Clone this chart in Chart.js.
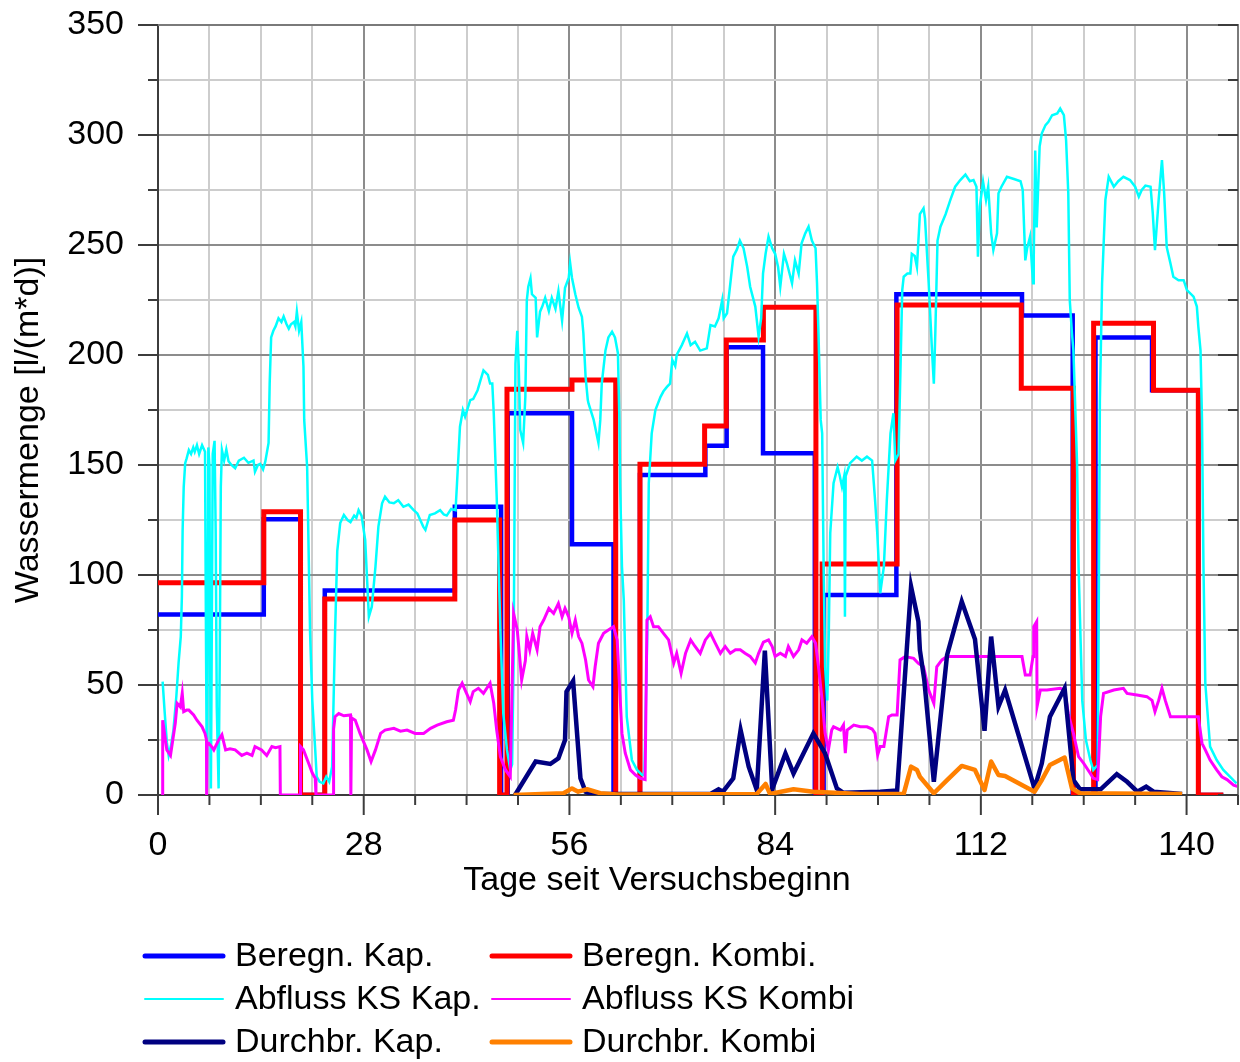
<!DOCTYPE html>
<html lang="de">
<head>
<meta charset="utf-8">
<title>Wassermenge – Tage seit Versuchsbeginn</title>
<script src="https://cdn.jsdelivr.net/npm/chart.js@4.4.1/dist/chart.umd.min.js"></script>
<style>
  html, body { margin: 0; padding: 0; background: #ffffff; }
  #wrap { width: 1240px; height: 1062px; }
</style>
</head>
<body>
<div id="wrap"><canvas id="chart" width="1240" height="1062"></canvas></div>
<script>
const FONT = "'Liberation Sans', Arial, Helvetica, sans-serif";

// Axis labelling
const xTickLabels = [0, 28, 56, 84, 112, 140];
const yTickLabels = [0, 50, 100, 150, 200, 250, 300, 350];
const xTitle = 'Tage seit Versuchsbeginn';
const yTitle = 'Wassermenge [l/(m*d)]';
const seriesNames = ['Beregn. Kap.', 'Beregn. Kombi.', 'Abfluss KS Kap.', 'Abfluss KS Kombi', 'Durchbr. Kap.', 'Durchbr. Kombi'];

// Irrigation rates: [start day, rate] – each rate holds until the next start day
const beregnKap = [
  [0, 82], [14.4, 125.3], [19.4, 0], [22.7, 92.9], [40.4, 131], [46.7, 0], [47.6, 173.5],
  [56.35, 114], [62.0, 0], [65.6, 145.5], [74.5, 158.8], [77.4, 203.5], [82.35, 155.3],
  [89.4, 0], [90.6, 90.9], [100.5, 227.6], [117.6, 218], [124.5, 0], [127.6, 208],
  [135.3, 184], [141.6, 0], [145, 0]
];
const beregnKombi = [
  [0, 96.5], [14.4, 128.8], [19.4, 0], [22.7, 89.1], [40.4, 125], [46.5, 0], [47.5, 184.4],
  [56.35, 188.6], [62.3, 0], [65.6, 150.3], [74.4, 167.7], [77.35, 206.8], [82.4, 221.7],
  [89.55, 0], [90.4, 105], [100.6, 222.7], [117.5, 184.9], [124.6, 0], [127.35, 214.4],
  [135.5, 184], [141.6, 0], [145, 0]
];

// Runoff of the capillary-barrier variant [day, l/(m*d)]
const abflussKap = [
  [0.63, 51.5], [0.9, 38], [1.2, 24], [1.45, 18], [1.8, 23], [2.1, 29.5], [2.5, 45], [2.8, 60],
  [3.1, 72], [3.25, 90], [3.35, 120], [3.5, 140], [3.7, 150.8], [3.9, 153], [4.2, 156.8],
  [4.5, 155], [4.8, 158], [5.0, 156], [5.3, 159], [5.6, 155], [6.0, 159], [6.4, 156],
  [6.55, 60], [6.65, 2], [6.75, 60], [6.85, 158], [7.0, 150], [7.1, 60], [7.2, 3], [7.3, 60],
  [7.45, 155], [7.7, 161], [7.85, 120], [8.0, 40], [8.25, 3], [8.4, 60], [8.55, 140],
  [8.7, 156.8], [9.0, 152], [9.3, 157], [9.6, 151.7], [10.0, 150], [10.5, 148.5], [11.0, 152],
  [11.7, 153.3], [12.3, 151], [13.0, 152], [13.2, 147], [13.6, 150], [13.9, 150.5], [14.3, 148],
  [14.6, 151.5], [15.05, 160], [15.2, 187], [15.4, 208], [15.7, 211], [16.0, 213], [16.4, 216.7],
  [16.8, 215], [17.1, 217.5], [17.5, 214], [17.8, 212], [18.1, 214], [18.5, 215], [18.7, 213],
  [18.9, 219.7], [19.2, 211], [19.5, 215], [19.8, 194.7], [19.9, 170.5], [20.3, 149],
  [20.7, 73.6], [21.0, 43], [21.4, 20.5], [21.6, 8.3], [22.0, 6], [22.5, 5.3], [22.9, 8.3],
  [23.3, 6], [23.7, 12.9], [24.1, 73.5], [24.4, 111], [24.8, 123.6], [25.3, 127.3], [25.8, 125],
  [26.2, 124], [26.7, 127], [27.0, 126], [27.3, 129.5], [27.7, 127], [28.2, 116], [28.7, 81],
  [29.1, 85.6], [29.6, 103.8], [30.0, 122], [30.5, 132.6], [30.9, 135.6], [31.5, 133],
  [32.1, 132.6], [32.7, 134], [33.4, 131], [34.1, 132], [34.8, 129.5], [35.3, 128], [35.7, 125],
  [36.1, 122], [36.4, 120.5], [37.0, 127.3], [37.7, 128], [38.4, 129.5], [38.9, 127.5],
  [39.3, 127], [39.9, 130], [40.5, 129.5], [40.7, 141.7], [41.1, 167.4], [41.5, 175],
  [41.8, 172], [42.5, 179.5], [42.9, 180], [43.5, 184], [43.9, 188.6], [44.3, 193], [44.9, 191],
  [45.2, 187], [45.5, 187], [45.7, 173.5], [46.1, 135.6], [46.6, 75], [47.0, 37], [47.5, 20.5],
  [47.95, 11.4], [48.2, 14], [48.4, 60], [48.65, 196], [48.9, 211], [49.1, 195], [49.3, 166],
  [49.7, 160], [50.0, 181], [50.2, 225], [50.4, 231], [50.7, 234.9], [50.9, 227.6], [51.4, 226],
  [51.6, 208], [52.0, 219.7], [52.3, 222], [52.7, 226], [53.2, 220], [53.6, 226], [54.1, 221],
  [54.5, 229], [55.0, 215.6], [55.4, 230.5], [55.9, 235], [56.1, 241.7], [56.35, 235],
  [56.8, 227.6], [57.25, 221.5], [57.7, 217.4], [57.9, 209.8], [58.2, 190], [58.5, 179.5],
  [58.6, 178], [59.3, 170.5], [59.95, 160], [60.2, 170.5], [60.4, 187], [60.9, 202],
  [61.3, 208], [61.8, 210.6], [62.2, 208], [62.6, 200.8], [62.8, 170.5], [62.9, 141.7],
  [63.15, 103.8], [63.4, 88.6], [63.8, 35.6], [64.5, 15.9], [65.2, 11.4], [65.9, 9.1],
  [66.2, 9.1], [66.6, 73.5], [66.8, 141.7], [67.2, 164.4], [67.7, 175], [68.4, 181],
  [68.8, 183.5], [69.3, 185.6], [69.7, 187], [70.0, 197.7], [70.4, 195], [70.6, 200],
  [71.3, 204.5], [72.0, 209.8], [72.5, 204.5], [73.1, 206], [73.8, 202], [74.7, 203],
  [75.2, 213.6], [75.8, 213], [76.3, 216.7], [76.8, 225], [77.0, 216.7], [77.45, 219],
  [77.9, 232.6], [78.3, 244.7], [78.8, 248], [79.2, 252], [79.7, 248.5], [80.2, 240],
  [80.6, 231], [81.3, 222], [81.75, 208.3], [82.1, 216.7], [82.35, 237], [82.7, 246],
  [83.1, 253.8], [83.6, 248.5], [84.0, 246], [84.4, 240], [84.7, 231], [85.2, 246],
  [85.6, 241.7], [86.3, 232.6], [86.7, 243], [87.2, 237], [87.6, 250.8], [88.1, 255.3],
  [88.55, 258.3], [89.0, 252], [89.5, 248.5], [89.7, 232.6], [89.9, 209.8], [90.2, 170.5],
  [90.4, 164.4], [90.6, 103.8], [90.8, 58.3], [91.1, 43], [91.3, 73.5], [91.5, 119],
  [91.95, 141.7], [92.5, 149], [92.8, 145], [93.1, 140], [93.4, 145], [93.5, 81], [93.6, 145],
  [94.2, 150.8], [95.1, 153.8], [95.8, 152], [96.5, 153.8], [97.2, 152], [97.6, 134],
  [97.9, 119], [98.3, 91.7], [98.8, 103.8], [99.2, 134], [99.7, 164.4], [100.1, 173.5],
  [100.35, 152], [100.8, 155], [101.3, 229.5], [101.5, 235.6], [102.0, 237], [102.4, 237],
  [102.6, 246], [103.0, 245], [103.3, 240], [103.7, 264], [104.2, 266.7], [104.4, 262],
  [104.9, 232.6], [105.35, 202], [105.6, 187], [105.8, 209.8], [106.1, 252], [106.5, 258.3],
  [107.2, 264], [107.85, 270.5], [108.5, 276.5], [109.2, 279.5], [109.9, 282], [110.5, 279],
  [111.0, 279.5], [111.4, 276.5], [111.6, 244.7], [111.85, 267.4], [112.3, 278.8],
  [112.7, 270.5], [113.0, 276.5], [113.4, 255.3], [113.7, 247.7], [114.2, 255.3],
  [114.4, 273.5], [114.8, 276.5], [115.55, 281], [116.5, 280], [117.4, 279], [117.7, 275],
  [118.05, 243], [118.3, 248.5], [118.7, 253.8], [119.1, 232.6], [119.2, 244.7], [119.4, 293],
  [119.6, 258], [120.0, 294.7], [120.3, 300.8], [120.8, 304.5], [121.2, 306], [121.7, 309],
  [122.4, 309.8], [122.8, 312], [123.3, 309], [123.6, 297.7], [123.9, 273.5], [124.1, 225],
  [124.4, 209.8], [124.6, 202], [124.9, 170.5], [125.1, 150], [125.3, 103.8], [125.8, 43],
  [126.3, 25], [126.9, 15.9], [127.3, 11.4], [127.9, 13.6], [128.0, 58.3], [128.2, 179.5],
  [128.5, 232.6], [128.95, 270.5], [129.4, 281], [130.1, 276.5], [130.7, 279], [131.4, 281],
  [132.3, 279.5], [133.0, 276.5], [133.5, 272], [133.9, 275], [134.4, 277], [135.1, 276.5],
  [135.4, 264.4], [135.7, 247.7], [136.2, 270.5], [136.65, 288.6], [136.95, 273.5],
  [137.3, 249], [137.8, 241.7], [138.2, 235.6], [138.9, 234], [139.6, 234], [140.05, 229.5],
  [140.95, 226.5], [141.4, 222], [141.6, 212.9], [141.9, 202], [142.1, 170.5], [142.3, 103.8],
  [142.55, 50.8], [143.2, 22], [144.1, 15.9], [145.0, 11.4], [145.9, 8.3], [146.8, 5.3]
];

// Runoff of the combined variant [day, l/(m*d)]
const abflussKombi = [
  [0.63, 0], [0.64, 34], [1.2, 20.5], [1.7, 18], [2.35, 32.6], [2.6, 41.7], [3.05, 40],
  [3.3, 46.2], [3.5, 37.9], [3.9, 38.6], [4.2, 38.6], [4.85, 36.4], [5.3, 34], [6.0, 31],
  [6.4, 28], [6.6, 25], [6.62, 0], [6.68, 23.5], [6.9, 23.5], [7.3, 22], [7.6, 20.5],
  [8.25, 25], [8.7, 27.4], [9.2, 20.5], [9.8, 21], [10.5, 20.5], [11.4, 18], [12.1, 19],
  [12.8, 18], [13.2, 22], [14.1, 20.5], [14.8, 18], [15.5, 22], [16.0, 21.5], [16.6, 22],
  [16.65, 0], [19.35, 0], [19.4, 22], [19.8, 20.5], [20.5, 14.4], [21.0, 10], [21.4, 7.6],
  [21.5, 0], [23.85, 0], [23.9, 30], [24.1, 35.6], [24.6, 37], [25.3, 36], [26.2, 36.4],
  [26.25, 0], [26.35, 35], [26.85, 34], [27.5, 28], [28.45, 20.5], [29.0, 15.2], [29.6, 20.5],
  [30.3, 28], [30.9, 29.5], [32.1, 30.3], [33.0, 29], [33.9, 29.5], [35.0, 28], [36.15, 28],
  [37.1, 30.3], [38.0, 31.8], [39.3, 33.3], [40.2, 34], [40.5, 38.6], [40.9, 47.7],
  [41.4, 50.8], [41.8, 47.7], [42.5, 42.4], [42.9, 47], [43.6, 48.5], [44.3, 46.2],
  [45.2, 50.8], [45.7, 41.7], [46.1, 29.5], [46.6, 17.4], [47.3, 11.4], [47.95, 8.3],
  [48.4, 82.6], [48.9, 75], [49.5, 52.3], [50.0, 61], [50.2, 72], [50.6, 66], [51.0, 73.5],
  [51.6, 66], [52.0, 76.5], [52.5, 79.5], [53.2, 84.8], [53.85, 82.5], [54.5, 87], [55.0, 81],
  [55.4, 84.8], [55.9, 81], [56.35, 73.5], [56.8, 79.5], [57.25, 72], [57.7, 69], [58.2, 61.4],
  [58.6, 52.3], [59.2, 49.2], [59.5, 58.3], [59.95, 69], [60.65, 73.5], [61.3, 75], [62.0, 76.5],
  [62.5, 70.5], [62.8, 50.8], [63.15, 28], [63.6, 19], [64.3, 11.4], [65.0, 9.1], [65.65, 7.6],
  [66.3, 7], [66.55, 79.5], [67.0, 81], [67.45, 76.5], [68.1, 76.5], [68.8, 73.5], [69.5, 70.5],
  [70.2, 60], [70.6, 64.4], [71.2, 55.3], [71.8, 64.4], [72.5, 70.5], [73.1, 67.5], [73.8, 64.4],
  [74.5, 70.5], [75.2, 73.5], [75.85, 69], [76.55, 64.4], [77.2, 67.5], [77.9, 64.4], [78.6, 66],
  [79.25, 66], [79.9, 64.4], [80.6, 63], [81.3, 60], [81.75, 64.4], [82.4, 69.5], [83.1, 70.5],
  [83.6, 67.5], [84.0, 63], [84.7, 64.4], [85.4, 63], [85.8, 67.5], [86.5, 63], [87.2, 66],
  [87.65, 70.5], [88.3, 69], [89.0, 72], [89.5, 69], [89.9, 58.3], [90.4, 43], [90.8, 28],
  [91.25, 20.5], [91.7, 29.5], [91.95, 31], [92.9, 29.5], [93.3, 31.8], [93.55, 19],
  [93.8, 29.5], [94.7, 31.8], [95.6, 31], [96.5, 31], [97.2, 30], [97.6, 28], [97.95, 18.2],
  [98.3, 22], [98.8, 22], [99.45, 35.6], [99.9, 36.4], [100.6, 36.4], [101.0, 61.4],
  [101.7, 62.9], [102.85, 62.1], [103.5, 59.8], [104.2, 58.3], [104.9, 47.7], [105.6, 41.7],
  [106.0, 58.3], [106.7, 61.4], [107.4, 62.9], [109.2, 62.9], [111.5, 62.9], [113.8, 62.9],
  [116.0, 62.9], [117.6, 62.9], [118.05, 54.5], [118.7, 54.5], [119.1, 62.9], [119.2, 76.5],
  [119.6, 78.8], [119.65, 40.2], [120.1, 47.7], [121.0, 47.7], [122.8, 48.5], [123.4, 47.7],
  [123.9, 37], [124.6, 28], [125.3, 17.4], [126.0, 14.4], [126.9, 9.8], [127.3, 7.6],
  [127.9, 7], [128.3, 35.6], [128.7, 46.2], [130.1, 47.7], [131.4, 48.5], [131.9, 46.2],
  [133.25, 45.5], [134.6, 44.7], [135.3, 43], [135.7, 37.9], [136.2, 43], [136.65, 48.5],
  [137.1, 43], [137.8, 35.6], [139.1, 35.6], [140.95, 35.6], [141.6, 35.6], [142.1, 23.5],
  [142.55, 20.5], [143.2, 15.9], [144.1, 11.4], [144.8, 8.3], [145.5, 7], [146.4, 4.5], [147, 3.8]
];

// Breakthrough, capillary-barrier variant [day, l/(m*d)]
const durchbrKap = [
  [48.6, 0], [51.4, 15.2], [53.4, 14.1], [54.5, 16.7], [55.4, 25], [55.6, 47], [56.5, 51.8],
  [57.5, 7.6], [58.2, 1.5], [59.0, 0.5], [75.2, 0.5], [76.3, 2.6], [76.9, 1.5], [78.3, 7.6],
  [79.3, 29.5], [80.4, 12.9], [81.5, 2.3], [82.6, 65.6], [83.6, 2.6], [85.4, 18.9], [86.5, 9.8],
  [89.2, 28], [90.8, 18.9], [92.4, 3], [93.3, 1], [98.3, 1.5], [100.6, 2], [102.5, 94.7],
  [103.5, 78.8], [103.7, 65.9], [104.3, 52.3], [105.6, 6], [107.4, 63.6], [109.4, 87.9],
  [111.2, 70.8], [112.5, 29.2], [113.4, 72], [114.4, 40.2], [115.3, 47.7], [119.3, 3],
  [120.3, 14.4], [121.4, 35.6], [123.4, 48.5], [124.6, 6.8], [125.5, 2.6], [128.3, 2.6],
  [130.5, 9.5], [131.9, 6], [133.3, 1.5], [134.5, 3.8], [135.5, 1.5], [137.3, 1], [139.4, 0.5]
];

// Breakthrough, combined variant [day, l/(m*d)]
const durchbrKombi = [
  [48.4, 0], [55.2, 0.8], [56.35, 3], [57.2, 1.5], [58.4, 2.6], [60.2, 0.8], [62.5, 0.2],
  [81.5, 0.5], [82.7, 5], [83.3, 0.5], [86.5, 2.6], [89.2, 1.5], [95.6, 0.5], [101.5, 0.5],
  [102.5, 12.9], [103.3, 11.4], [103.7, 8.3], [105.6, 0.8], [107.4, 6.8], [109.4, 13.2],
  [111.2, 11.4], [112.5, 2.3], [113.4, 15.2], [114.4, 9.1], [115.3, 8.6], [119.3, 1.5],
  [120.3, 6.8], [121.4, 13.6], [123.4, 17], [124.4, 3], [125.5, 0.8], [139.4, 0.5]
];

function toPoints(pairs) {
  return pairs.map(p => ({ x: p[0], y: p[1] }));
}

const MAJOR_GRID = '#8c8c8c';
const MINOR_GRID = '#cdcdcd';
const AXIS_COLOR = '#3c3c3c';

// Outer frame, tick marks, axis titles and the two-column legend
const framePlugin = {
  id: 'frame',
  afterDatasetsDraw(chart) {
    const { ctx, chartArea: a, scales: { x, y } } = chart;
    const seg = (x1, y1, x2, y2) => { ctx.beginPath(); ctx.moveTo(x1, y1); ctx.lineTo(x2, y2); ctx.stroke(); };
    ctx.save();
    ctx.lineWidth = 2;
    ctx.strokeStyle = '#7a7a7a';
    ctx.beginPath();
    ctx.moveTo(a.left, a.top);
    ctx.lineTo(a.right, a.top);
    ctx.lineTo(a.right, a.bottom);
    ctx.stroke();
    ctx.strokeStyle = AXIS_COLOR;
    y.ticks.forEach(t => {
      const py = y.getPixelForValue(t.value);
      const len = yTickLabels.includes(t.value) ? 20 : 10;
      seg(a.left - len, py, a.left, py);
      seg(a.right - len, py, a.right, py);
    });
    x.ticks.forEach(t => {
      const px = x.getPixelForValue(t.value);
      const len = xTickLabels.includes(t.value) ? 20 : 10;
      seg(px, a.bottom, px, a.bottom + len);
    });
    ctx.restore();
  },
  afterDraw(chart) {
    const { ctx } = chart;
    ctx.save();
    ctx.fillStyle = '#000';
    ctx.font = `34px ${FONT}`;
    ctx.textAlign = 'center';
    ctx.textBaseline = 'middle';
    ctx.fillText(xTitle, 657, 881);
    ctx.save();
    ctx.translate(29, 430);
    ctx.rotate(-Math.PI / 2);
    ctx.fillText(yTitle, 0, 0);
    ctx.restore();

    const rowY = [956, 999, 1042];
    const colX = [145, 492];
    ctx.textAlign = 'left';
    chart.data.datasets.forEach((ds, i) => {
      const row = Math.floor(i / 2), col = i % 2;
      const yy = rowY[row], xx = colX[col];
      ctx.strokeStyle = ds.borderColor;
      ctx.lineWidth = ds.legendWidth;
      ctx.lineCap = 'round';
      ctx.beginPath();
      ctx.moveTo(xx, yy);
      ctx.lineTo(xx + 78, yy);
      ctx.stroke();
      ctx.fillText(ds.label, xx + 90, yy + 1);
    });
    ctx.restore();
  }
};

const common = { pointRadius: 0, pointHoverRadius: 0, fill: false, tension: 0 };

// Scale boxes get fixed sizes so the plot area sits at 158..1238 x 25..795
function fixBox(scale, w, h) {
  if (w !== null) scale.width = w;
  if (h !== null) scale.height = h;
  scale.paddingLeft = 0;
  scale.paddingRight = 0;
  scale.paddingTop = 0;
  scale.paddingBottom = 0;
}

new Chart(document.getElementById('chart'), {
  type: 'line',
  data: {
    datasets: [
      { ...common, label: seriesNames[0], data: toPoints(beregnKap), borderColor: '#0000ff', borderWidth: 4.5, legendWidth: 5, stepped: true, borderJoinStyle: 'miter', order: 5 },
      { ...common, label: seriesNames[1], data: toPoints(beregnKombi), borderColor: '#ff0000', borderWidth: 5, legendWidth: 5, stepped: true, borderJoinStyle: 'miter', order: 4 },
      { ...common, label: seriesNames[2], data: toPoints(abflussKap), borderColor: '#00ffff', borderWidth: 2.5, legendWidth: 2, order: 3 },
      { ...common, label: seriesNames[3], data: toPoints(abflussKombi), borderColor: '#ff00ff', borderWidth: 3, legendWidth: 2, order: 2 },
      { ...common, label: seriesNames[4], data: toPoints(durchbrKap), borderColor: '#000080', borderWidth: 4.5, legendWidth: 5, borderJoinStyle: 'miter', order: 1 },
      { ...common, label: seriesNames[5], data: toPoints(durchbrKombi), borderColor: '#ff8000', borderWidth: 4.5, legendWidth: 5, borderJoinStyle: 'round', order: 0 }
    ]
  },
  options: {
    responsive: false,
    animation: false,
    events: [],
    layout: { padding: { left: 0, top: 25, right: 2, bottom: 157 } },
    plugins: { legend: { display: false }, tooltip: { enabled: false } },
    scales: {
      x: {
        type: 'linear',
        min: 0,
        max: 147,
        afterFit(scale) { fixBox(scale, null, 110); },
        grid: {
          drawTicks: false,
          lineWidth: 2,
          color: c => (c.tick && xTickLabels.includes(c.tick.value)) ? MAJOR_GRID : MINOR_GRID
        },
        border: { color: AXIS_COLOR, width: 2 },
        ticks: {
          stepSize: 7,
          autoSkip: false,
          maxRotation: 0,
          padding: 30,
          color: '#000',
          font: { family: FONT, size: 34 },
          callback: v => xTickLabels.includes(v) ? String(v) : ''
        }
      },
      y: {
        min: 0,
        max: 350,
        afterFit(scale) { fixBox(scale, 158, null); },
        grid: {
          drawTicks: false,
          lineWidth: 2,
          color: c => (c.tick && yTickLabels.includes(c.tick.value)) ? MAJOR_GRID : MINOR_GRID
        },
        border: { color: AXIS_COLOR, width: 2 },
        ticks: {
          stepSize: 25,
          autoSkip: false,
          padding: 34,
          color: '#000',
          font: { family: FONT, size: 34 },
          callback: v => yTickLabels.includes(v) ? String(v) : ''
        }
      }
    }
  },
  plugins: [framePlugin]
});
</script>
</body>
</html>
